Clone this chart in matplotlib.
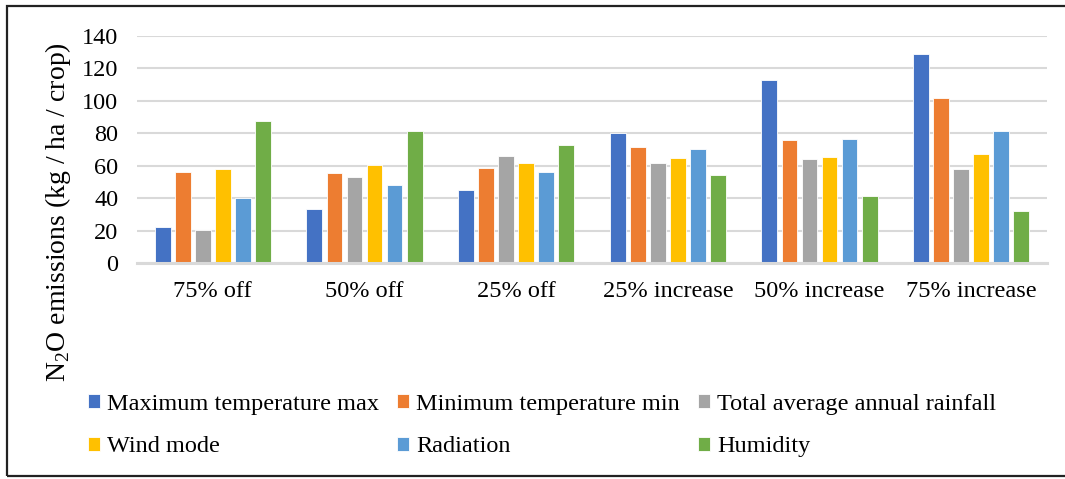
import numpy as np
import matplotlib
matplotlib.use('Agg')
import matplotlib.pyplot as plt
from matplotlib.patches import Rectangle

plt.rcParams['font.family'] = ['Liberation Serif', 'DejaVu Serif']
plt.rcParams['mathtext.fontset'] = 'custom'
plt.rcParams['mathtext.rm'] = 'Liberation Serif'

scenarios = ['75% off', '50% off', '25% off', '25% increase', '50% increase', '75% increase']
series = ['Maximum temperature max', 'Minimum temperature min', 'Total average annual rainfall',
          'Wind mode', 'Radiation', 'Humidity']
colors = ['#4472C4', '#ED7D31', '#A5A5A5', '#FFC000', '#5B9BD5', '#70AD47']

tmax = [22.3, 33.6, 45.3, 79.9, 112.7, 128.9]
tmin = [56.2, 55.7, 58.4, 71.3, 76.0, 101.7]
rain = [20.3, 53.3, 65.8, 61.9, 64.4, 58.0]
wind = [58.2, 60.5, 61.9, 65.0, 65.6, 67.4]
rad = [39.8, 48.2, 56.2, 70.1, 76.7, 81.6]
hum = [87.5, 81.6, 72.6, 54.3, 41.2, 32.0]
values = [tmax, tmin, rain, wind, rad, hum]

fig = plt.figure(figsize=(10.65, 4.79), dpi=100)
ax = fig.add_axes([137/1065, 1 - 263/479, (1047 - 137)/1065, (263 - 36)/479])

x = np.arange(len(scenarios))
pitch = 0.132
width = 0.105
bars = []
for i, (name, vals) in enumerate(zip(series, values)):
    b = ax.bar(x + (i - 2.5) * pitch, vals, width, color=colors[i], label=name,
               edgecolor='white', linewidth=0.6, zorder=3)
    bars.append(b)

ax.set_xlim(-0.5, 5.5)
ax.set_ylim(0, 140)
ax.set_yticks(range(0, 141, 20))
ax.set_xticks(x)
ax.set_xticklabels(scenarios)
ax.yaxis.grid(True, color='#D9D9D9', linewidth=1.5, zorder=0)
for s in ['top', 'right', 'left']:
    ax.spines[s].set_visible(False)
ax.spines['bottom'].set_color('#D9D9D9')
ax.spines['bottom'].set_linewidth(2.2)
ax.spines['bottom'].set_zorder(4)
ax.tick_params(axis='both', length=0, labelsize=17.5)
ax.tick_params(axis='y', pad=13.5)
ax.tick_params(axis='x', pad=13)

fig.text(58/1065, 1 - 212/479, 'N$_2$O emissions (kg / ha / crop)', rotation=90,
         ha='center', va='center', fontsize=20)

# legend filled row by row: 3 columns, 2 rows
order = [0, 3, 1, 4, 2, 5]
fig.legend([bars[k] for k in order], [series[k] for k in order],
           loc='upper left', bbox_to_anchor=(88/1065, 1 - 394/479), ncol=3,
           frameon=False, fontsize=17.5, handlelength=0.5, handleheight=0.5,
           handletextpad=0.3, columnspacing=0.72, labelspacing=0.88,
           borderpad=0, borderaxespad=0)

# frame around the whole chart
fig.patches.append(Rectangle((7/1065, 3/479), 1.2, 1 - 9/479, transform=fig.transFigure,
                             fill=False, edgecolor='#222222', linewidth=1.6))

fig.savefig('out.png', dpi=100)
